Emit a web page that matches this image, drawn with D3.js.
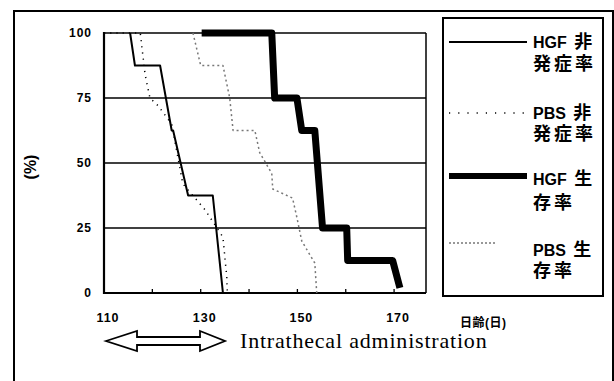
<!DOCTYPE html>
<html>
<head>
<meta charset="utf-8">
<script src="https://cdn.jsdelivr.net/npm/d3@7"></script>
<style>
  body { margin: 0; background: #fff; }
  svg { display: block; }
  .num { font-family: "Liberation Sans", Arial, sans-serif; font-weight: bold; }
  .lg { font-family: "Liberation Sans", "Noto Sans CJK JP", sans-serif; font-weight: bold; }
</style>
</head>
<body>
<div class="chart"></div>
<script>
// days after birth vs. percent
var hgfOnsetDays = [115.4, 116.4, 121.6, 124.0, 124.3, 127.4, 132.5, 134.6];
var hgfOnsetVals = [100, 87.5, 87.5, 62.5, 62.5, 37.5, 37.5, 0];

var pbsOnsetDays = [110, 117.5, 118.5, 119.5, 121.2, 124.0, 126.3, 130.9, 134.6, 135.4, 135.5];
var pbsOnsetVals = [100, 100, 84, 75, 72, 65, 42, 32, 21.5, 6, 0];

var hgfSurvDays = [130.2, 144.7, 145.3, 149.9, 150.9, 153.6, 155.2, 160.2, 160.4, 169.7, 171.2];
var hgfSurvVals = [100, 100, 75, 75, 62.5, 62.5, 25, 25, 12.5, 12.5, 2];

var pbsSurvDays = [128.4, 130.0, 134.6, 136.0, 136.7, 141.2, 142.2, 144.7, 144.9, 149.0, 149.9, 150.9, 153.6, 154.0];
var pbsSurvVals = [100, 87.5, 87.5, 75, 62.5, 62.5, 54, 46, 40, 36.5, 29, 20, 11.5, 0];

var yTicks = [0, 25, 50, 75, 100];
var xTickLabels = [110, 130, 150, 170];
var xTickMarks = [120, 130, 140, 150, 160, 170];

var legendNames = [["HGF ", "非", "発症率"], ["PBS ", "非", "発症率"], ["HGF ", "生", "存率"], ["PBS ", "生", "存率"]];

var width = 614, height = 381;
var svg = d3.select(".chart").append("svg")
  .attr("width", width).attr("height", height);

// outer frame
svg.append("rect")
  .attr("x", 14).attr("y", 11).attr("width", 599).attr("height", 400)
  .attr("fill", "none").attr("stroke", "#000").attr("stroke-width", 2);

var x = d3.scaleLinear().domain([110, 176.6]).range([104, 426]);
var y = d3.scaleLinear().domain([0, 100]).range([293, 33]);

// grid lines
svg.selectAll(".grid").data(yTicks.filter(function (d) { return d > 0; }))
  .enter().append("line")
  .attr("x1", x(110)).attr("x2", x(176.6))
  .attr("y1", function (d) { return y(d); }).attr("y2", function (d) { return y(d); })
  .attr("stroke", "#000").attr("stroke-width", 1.3);

// right border of plot
svg.append("line")
  .attr("x1", x(176.6)).attr("x2", x(176.6)).attr("y1", y(100)).attr("y2", y(0))
  .attr("stroke", "#000").attr("stroke-width", 1.5);

// axes
svg.append("line").attr("x1", x(110)).attr("x2", x(110)).attr("y1", y(100) - 1).attr("y2", y(0) + 1)
  .attr("stroke", "#000").attr("stroke-width", 2.2);
svg.append("line").attr("x1", x(110) - 1).attr("x2", x(176.6)).attr("y1", y(0)).attr("y2", y(0))
  .attr("stroke", "#000").attr("stroke-width", 2.2);

svg.selectAll(".xt").data(xTickMarks).enter().append("line")
  .attr("x1", function (d) { return x(d); }).attr("x2", function (d) { return x(d); })
  .attr("y1", y(0)).attr("y2", y(0) - 4)
  .attr("stroke", "#000").attr("stroke-width", 1.3);

svg.selectAll(".yl").data(yTicks).enter().append("text")
  .attr("class", "num")
  .attr("x", 92).attr("y", function (d) { return y(d) + 4; })
  .attr("text-anchor", "end")
  .style("font-size", "12px").style("letter-spacing", "1px")
  .text(function (d) { return d; });

svg.selectAll(".xl").data(xTickLabels).enter().append("text")
  .attr("class", "num")
  .attr("x", function (d) { return x(d) + 4; }).attr("y", 322)
  .attr("text-anchor", "middle")
  .style("font-size", "12.5px").style("letter-spacing", "1px")
  .text(function (d) { return d; });

svg.append("text")
  .attr("class", "num")
  .attr("transform", "translate(36,167) rotate(-90)")
  .attr("text-anchor", "middle")
  .style("font-size", "16px")
  .text("(%)");

svg.append("text")
  .attr("class", "lg")
  .attr("x", 460).attr("y", 327)
  .style("font-size", "12px").style("letter-spacing", "0.5px")
  .text("日齢(日)");

// series
var line = d3.line()
  .x(function (d) { return x(d[0]); })
  .y(function (d) { return y(d[1]); });

var series = [
  { days: pbsSurvDays, vals: pbsSurvVals, stroke: "#777", width: 1.5, dash: "2,3" },
  { days: pbsOnsetDays, vals: pbsOnsetVals, stroke: "#000", width: 1.5, dash: "1.2,5" },
  { days: hgfOnsetDays, vals: hgfOnsetVals, stroke: "#000", width: 2, dash: null },
  { days: hgfSurvDays, vals: hgfSurvVals, stroke: "#000", width: 7, dash: null }
];

series.forEach(function (s) {
  svg.append("path")
    .datum(d3.zip(s.days, s.vals))
    .attr("d", line)
    .attr("fill", "none")
    .attr("stroke", s.stroke)
    .attr("stroke-width", s.width)
    .attr("stroke-linejoin", "round")
    .attr("stroke-dasharray", s.dash);
});

// legend
svg.append("rect")
  .attr("x", 443).attr("y", 18).attr("width", 160).attr("height", 278)
  .attr("fill", "#fff").attr("stroke", "#000").attr("stroke-width", 2);

var legendStyle = [
  { y: 42, x2: 527, stroke: "#000", width: 2, dash: null, b1: 48, b2: 70 },
  { y: 113, x2: 527, stroke: "#000", width: 1.5, dash: "1.2,8", b1: 119, b2: 140 },
  { y: 176, x2: 527, stroke: "#000", width: 6, dash: null, b1: 185, b2: 209 },
  { y: 243, x2: 497, stroke: "#777", width: 1.5, dash: "2,2", b1: 256, b2: 277 }
];

legendNames.forEach(function (n, i) {
  var st = legendStyle[i];
  svg.append("line")
    .attr("x1", 449).attr("x2", st.x2).attr("y1", st.y).attr("y2", st.y)
    .attr("stroke", st.stroke).attr("stroke-width", st.width)
    .attr("stroke-dasharray", st.dash);
  var t = svg.append("text").attr("class", "lg")
    .attr("x", 533).attr("y", st.b1).style("font-size", "16px");
  t.append("tspan").text(n[0]);
  t.append("tspan").attr("dx", 3).style("font-size", "18px").text(n[1]);
  svg.append("text").attr("class", "lg")
    .attr("x", 533).attr("y", st.b2)
    .style("font-size", "18px").style("letter-spacing", "3px")
    .text(n[2]);
});

// arrow + note
var arrowX = d3.scaleLinear().domain([0, 1]).range([106, 225]);
var cy = 341;
var pts = [
  [arrowX(0), cy], [137, cy - 10], [137, cy - 4], [200, cy - 4], [200, cy - 10],
  [arrowX(1), cy], [200, cy + 10], [200, cy + 4], [137, cy + 4], [137, cy + 10]
];
svg.append("path")
  .attr("d", d3.line()(pts) + "Z")
  .attr("fill", "#fff").attr("stroke", "#000").attr("stroke-width", 1.8)
  .attr("stroke-linejoin", "miter");

svg.append("text")
  .attr("x", 240).attr("y", 348)
  .style("font-family", "'Liberation Serif', 'Times New Roman', serif")
  .style("font-size", "22px").style("letter-spacing", "0.8px")
  .text("Intrathecal administration");
</script>
</body>
</html>
